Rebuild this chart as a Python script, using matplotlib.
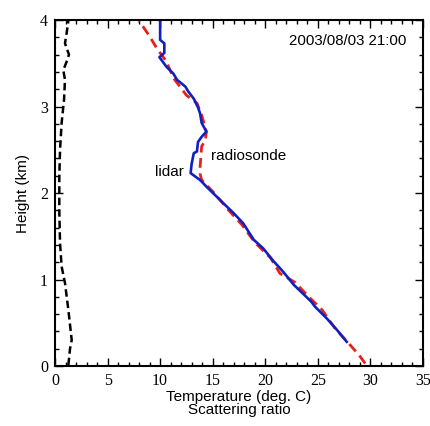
import numpy as np
import matplotlib
matplotlib.use("Agg")
import matplotlib.pyplot as plt
from matplotlib.ticker import MultipleLocator

# lidar temperature profile (deg C) vs height (km)
lidar_temp = [27.75, 26.8, 25.85, 24.7, 24.4, 23.9, 22.7, 21.7, 20.8, 19.8, 18.9, 17.9,
              16.97, 15.86, 15.7, 14.6, 13.8, 12.9, 13.0, 13.2, 13.5, 13.6, 13.95, 14.4,
              13.95, 13.8, 13.6, 13.2, 12.7, 12.4, 11.6, 11.26, 10.6, 9.93, 10.4, 10.4,
              10.0, 10.0]
lidar_height = [0.28, 0.42, 0.55, 0.69, 0.74, 0.80, 0.94, 1.09, 1.21, 1.36, 1.46, 1.65,
                1.77, 1.90, 1.92, 2.05, 2.15, 2.23, 2.34, 2.46, 2.48, 2.59, 2.65, 2.71,
                2.81, 2.92, 2.99, 3.09, 3.17, 3.23, 3.31, 3.38, 3.46, 3.57, 3.62, 3.73,
                3.77, 4.0]

# radiosonde temperature profile
sonde_temp = [29.5, 28.9, 27.8, 26.6, 25.4, 24.3, 22.8, 21.4, 20.5, 19.0, 17.8, 16.6,
              15.06, 13.95, 13.8, 13.8, 13.95, 14.3, 14.4, 13.95, 13.5, 12.5, 11.26,
              10.6, 9.7, 8.9, 8.0]
sonde_height = [0.03, 0.13, 0.28, 0.44, 0.65, 0.78, 0.97, 1.07, 1.25, 1.43, 1.63, 1.79,
                2.01, 2.15, 2.22, 2.30, 2.54, 2.61, 2.71, 2.90, 3.04, 3.13, 3.33,
                3.52, 3.67, 3.83, 3.99]

# scattering ratio profile
scat_ratio = [1.27, 1.43, 1.59, 1.27, 0.95, 0.63, 0.48, 0.41, 0.41, 0.48, 0.63, 0.86,
              0.95, 0.79, 1.11, 1.33, 0.95, 1.11, 1.27]
scat_height = [0.01, 0.20, 0.30, 0.65, 0.96, 1.15, 1.42, 1.80, 2.19, 2.50, 2.81, 3.08,
               3.31, 3.42, 3.52, 3.60, 3.73, 3.85, 3.99]

fig = plt.figure(figsize=(4.31, 4.26), dpi=100)
ax = fig.add_axes([0.1276, 0.1408, 0.8538, 0.8122])

ax.plot(scat_ratio, scat_height, color='black', lw=1.8, ls=(0, (3, 1.6)))
ax.plot(sonde_temp, sonde_height, color='#e8201c', lw=2.0, ls=(0, (3.5, 2)))
ax.plot(lidar_temp, lidar_height, color='#1020c0', lw=1.9)

ax.set_xlim(0, 35)
ax.set_ylim(0, 4)
ax.xaxis.set_major_locator(MultipleLocator(5))
ax.xaxis.set_minor_locator(MultipleLocator(1))
ax.yaxis.set_major_locator(MultipleLocator(1))
ax.yaxis.set_minor_locator(MultipleLocator(0.2))
ax.tick_params(which='both', direction='in', top=True, right=True, width=1)
ax.tick_params(which='major', length=6, labelsize=11.5, pad=5)
ax.tick_params(which='minor', length=3)
for lab in ax.get_xticklabels() + ax.get_yticklabels():
    lab.set_family('Liberation Serif')
for s in ax.spines.values():
    s.set_linewidth(1.5)

ax.set_xlabel('Temperature (deg. C)\nScattering ratio', family='Liberation Sans',
              fontsize=11, linespacing=0.9, labelpad=1)
ax.set_ylabel('Height (km)', family='Liberation Sans', fontsize=11, labelpad=7)

ax.text(0.955, 0.96, '2003/08/03 21:00', transform=ax.transAxes, ha='right', va='top',
        family='Liberation Sans', fontsize=10.8)
ax.text(9.5, 2.24, 'lidar', family='Liberation Sans', fontsize=11, va='center')
ax.text(14.8, 2.43, 'radiosonde', family='Liberation Sans', fontsize=11, va='center')

fig.savefig('out.png', dpi=100)
